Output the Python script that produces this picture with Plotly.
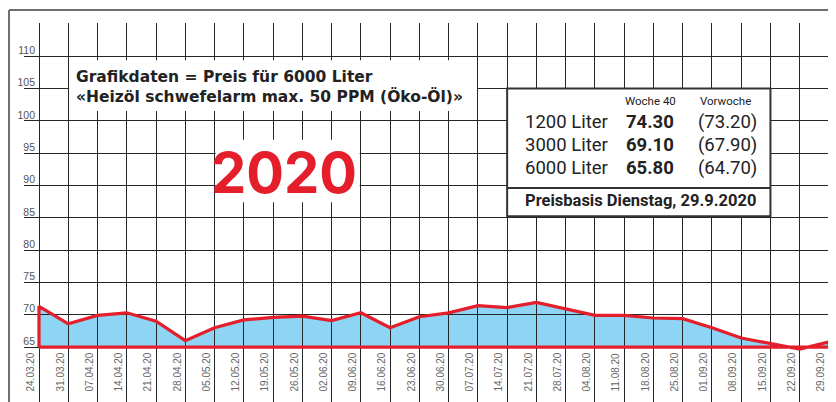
import plotly.graph_objects as go

# ---------------- data ----------------
dates = ["24.03.20", "31.03.20", "07.04.20", "14.04.20", "21.04.20", "28.04.20",
         "05.05.20", "12.05.20", "19.05.20", "26.05.20", "02.06.20", "09.06.20",
         "16.06.20", "23.06.20", "30.06.20", "07.07.20", "14.07.20", "21.07.20",
         "28.07.20", "04.08.20", "11.08.20", "18.08.20", "25.08.20", "01.09.20",
         "08.09.20", "15.09.20", "22.09.20", "29.09.20"]
prices = [71.3, 68.6, 69.9, 70.3, 69.0, 66.0, 68.0, 69.2, 69.6, 69.8, 69.1, 70.3,
          68.0, 69.7, 70.3, 71.4, 71.1, 71.9, 70.9, 69.9, 69.9, 69.5, 69.4, 68.0,
          66.4, 65.5, 64.7, 65.8]
base_value = 65
y_tickvals = [65, 70, 75, 80, 85, 90, 95, 100, 105, 110, 115]
y_ticktext = ["65", "70", "75", "80", "85", "90", "95", "100", "105", "110", ""]

title_lines = ["Grafikdaten = Preis für 6000 Liter",
               "«Heizöl schwefelarm max. 50 PPM (Öko-Öl)»"]
year_label = "2020"
col_headers = ["Woche 40", "Vorwoche"]
sizes = ["1200 Liter", "3000 Liter", "6000 Liter"]
week40 = ["74.30", "69.10", "65.80"]
prev_week = ["(73.20)", "(67.90)", "(64.70)"]
footer = "Preisbasis Dienstag, 29.9.2020"

# ---------------- geometry ----------------
# the page body adds an 8px offset; figure is sized to end at the window edges
OFF = 8
W, H = 836 - OFF, 402 - OFF
ML, MR, MT, MB = 24 - OFF, 0, 23 - OFF, 0
PW, PH = W - ML - MR, H - MT - MB
XR = [-0.513, 27.24]
YR = [56.5, 115.15]


def px(x):  # screen x -> paper
    return (x - OFF - ML) / PW


def py(y):  # screen y -> paper
    return (H - MB - (y - OFF)) / PH


idx = list(range(len(dates)))
n = len(dates) - 1
poly_x = [0] + idx + [n, 0]
poly_y = [base_value] + prices + [base_value, base_value]

RED = "#e41e2a"
BLUE = "#8dd4f5"
GRID = "#262626"

fig = go.Figure()
# fill (subplot 1, below grid)
fig.add_trace(go.Scatter(x=poly_x, y=poly_y, mode="lines", fill="toself",
                         fillcolor=BLUE, line=dict(width=0, color=BLUE),
                         xaxis="x", yaxis="y", hoverinfo="skip", showlegend=False))
# red outline (subplot 2, above grid)
fig.add_trace(go.Scatter(x=poly_x, y=poly_y, mode="lines",
                         line=dict(width=3.2, color=RED),
                         xaxis="x2", yaxis="y2", showlegend=False))

hidden = dict(showgrid=False, zeroline=False, showticklabels=False, showline=False,
              ticks="", automargin=False)
fig.update_layout(
    width=W, height=H,
    margin=dict(l=ML, r=MR, t=MT, b=MB, pad=0, autoexpand=False),
    paper_bgcolor="white", plot_bgcolor="rgba(0,0,0,0)",
    showlegend=False,
    xaxis=dict(domain=[0, 1], range=XR, anchor="y", **hidden),
    yaxis=dict(domain=[0, 1], range=YR, anchor="x", **hidden),
    xaxis2=dict(domain=[0, 1], range=XR, anchor="y2", automargin=False,
                tickmode="array", tickvals=idx, ticktext=dates,
                tickangle=-90, ticklabelposition="inside", ticklabelshift=-8,
                ticklabelstandoff=4,
                tickfont=dict(family="Liberation Sans, Arial, sans-serif", size=10, color="#666"),
                showgrid=True, gridcolor=GRID, gridwidth=1.2,
                zeroline=False, showline=False, ticks=""),
    yaxis2=dict(domain=[0, 1], range=YR, anchor="x2", automargin=False,
                tickmode="array", tickvals=y_tickvals, ticktext=y_ticktext,
                ticklabelshift=-6, ticklabelstandoff=-12,
                tickfont=dict(family="Liberation Sans, Arial, sans-serif", size=10.5, color="#555"),
                showgrid=True, gridcolor=GRID, gridwidth=1.2,
                zeroline=False, showline=False, ticks=""),
)

shapes = []
# outer frame (top and left)
shapes.append(dict(type="line", xref="paper", yref="paper",
                   x0=px(9), x1=px(840), y0=py(10), y1=py(10),
                   line=dict(color="#707070", width=2), layer="above"))
shapes.append(dict(type="line", xref="paper", yref="paper",
                   x0=px(9), x1=px(9), y0=py(10), y1=py(406),
                   line=dict(color="#707070", width=2), layer="above"))
# white box behind title text
shapes.append(dict(type="rect", xref="x2", yref="y2", x0=1.03, x1=14.97,
                   y0=101.55, y1=109.4, fillcolor="white", line=dict(width=0), layer="above"))
# white box behind year
shapes.append(dict(type="rect", xref="x2", yref="y2", x0=6.04, x1=10.96,
                   y0=87.4, y1=97.1, fillcolor="white", line=dict(width=0), layer="above"))
# info box
shapes.append(dict(type="rect", xref="x2", yref="y2", x0=16, x1=25,
                   y0=85.25, y1=105, fillcolor="white",
                   line=dict(width=2, color="#333"), layer="above"))
shapes.append(dict(type="line", xref="x2", yref="y2", x0=16, x1=25,
                   y0=89.6, y1=89.6, line=dict(width=2, color="#333"), layer="above"))
fig.update_layout(shapes=shapes)

anns = []
TXT = "#222"
anns.append(dict(xref="paper", yref="paper", x=px(74), y=py(86.5), xanchor="left", yanchor="middle",
                 text="<b>" + title_lines[0] + "</b><br><b>" + title_lines[1] + "</b>",
                 align="left", showarrow=False,
                 font=dict(family="DejaVu Sans, sans-serif", size=15.5, color=TXT)))
anns.append(dict(xref="paper", yref="paper", x=px(284), y=py(173), xanchor="center", yanchor="middle",
                 text="<b>" + year_label + "</b>", showarrow=False,
                 font=dict(family="Inter, Liberation Sans, sans-serif", size=56, color=RED)))
for hx, h in zip([650, 725], col_headers):
    anns.append(dict(xref="paper", yref="paper", x=px(hx), y=py(101), xanchor="center",
                     yanchor="middle", text=h, showarrow=False,
                     font=dict(family="Roboto, sans-serif", size=11.5, color=TXT)))
for i, (s, a, b) in enumerate(zip(sizes, week40, prev_week)):
    yy = 121.7 + i * 23.3
    anns.append(dict(xref="paper", yref="paper", x=px(523), y=py(yy), xanchor="left",
                     yanchor="middle", text=s, showarrow=False,
                     font=dict(family="Roboto, sans-serif", size=18.5, color=TXT)))
    anns.append(dict(xref="paper", yref="paper", x=px(649.5), y=py(yy), xanchor="center",
                     yanchor="middle", text="<b>" + a + "</b>", showarrow=False,
                     font=dict(family="Roboto, sans-serif", size=18.5, color=TXT)))
    anns.append(dict(xref="paper", yref="paper", x=px(727), y=py(yy), xanchor="center",
                     yanchor="middle", text=b, showarrow=False,
                     font=dict(family="Roboto, sans-serif", size=18.5, color=TXT)))
anns.append(dict(xref="paper", yref="paper", x=px(523), y=py(200), xanchor="left",
                 yanchor="middle", text="<b>" + footer + "</b>", showarrow=False,
                 font=dict(family="Roboto, sans-serif", size=16.5, color=TXT)))
fig.update_layout(annotations=anns)

fig.write_html("out.html")
